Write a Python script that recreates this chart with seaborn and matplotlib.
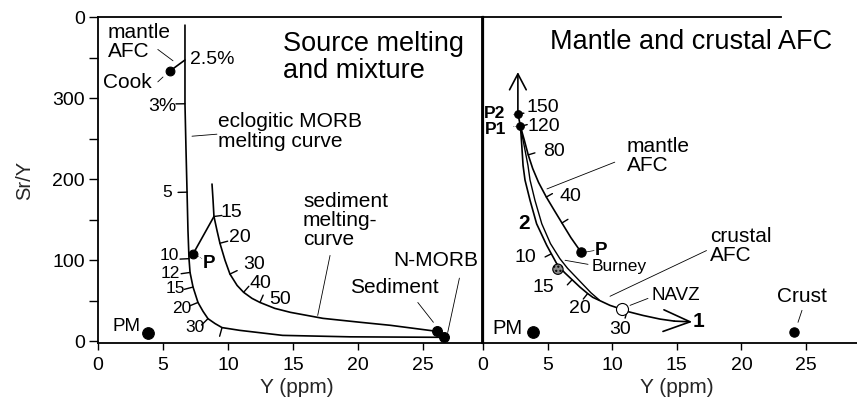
import numpy as np
import matplotlib
matplotlib.use("Agg")
import matplotlib.pyplot as plt
import seaborn as sns

sns.set_theme(style="white")
plt.rcParams["font.family"] = ["Liberation Sans", "DejaVu Sans"]
plt.rcParams["axes.edgecolor"] = "black"
plt.rcParams["xtick.color"] = "black"
plt.rcParams["ytick.color"] = "black"
plt.rcParams["text.color"] = "black"

# ---------------- Source melting and mixture ----------------
# eclogitic MORB melting curve (Y ppm, Sr/Y)
ecl_y = [6.69, 6.69, 6.69, 6.77, 6.85, 6.92, 7.0, 7.08, 7.31, 7.69, 8.08, 8.46,
         9.0, 9.54, 10.9, 14.2, 19.4, 26.6]
ecl_sry = [390, 347, 293, 236, 184, 137, 102, 85, 67, 48, 37, 28,
           22, 17, 13.6, 7.4, 5.6, 5.0]
ecl_tick_y = [6.69, 6.85, 7.0, 7.08, 7.31, 7.69, 8.46, 9.54]
ecl_tick_sry = [293, 184, 102, 85, 67, 48, 28, 17]
ecl_tick_lab = ["3%", "5", "10", "12", "15", "20", "30", ""]

# sediment melting curve
sed_y = [8.77, 8.85, 8.92, 9.15, 9.38, 9.77, 10.15, 10.7, 11.2, 11.85, 12.46,
         13.6, 14.8, 17.3, 20.2, 22.5, 26.1]
sed_sry = [194, 174, 154, 137, 121, 100, 83, 69, 60.5, 53, 48,
           40.7, 35.8, 28.4, 23.5, 19.8, 12.3]
sed_tick_y = [8.92, 9.38, 10.15, 11.2, 12.46]
sed_tick_sry = [154, 121, 83, 60.5, 48]
sed_tick_lab = ["15", "20", "30", "40", "50"]

# mixing line P -> sediment melt, and mantle AFC from 2.5% melt to Cook
mix_y = [7.33, 8.92]
mix_sry = [108.3, 154]
cook_afc_y = [5.5, 6.69]
cook_afc_sry = [333, 347]

left_pt_names = ["PM", "Cook", "P", "Sediment", "N-MORB"]
left_pt_y = [3.85, 5.5, 7.33, 26.1, 26.6]
left_pt_sry = [10, 333, 108.3, 12.3, 5]

# ---------------- Mantle and crustal AFC ----------------
arrow2_y = [2.9, 2.7, 2.7]
arrow2_sry = [265, 281, 332]
arrow2_tick_y = [2.7]
arrow2_tick_sry = [281]
arrow2_tick_lab = ["150"]

mafc_y = [2.9, 3.2, 3.5, 3.85, 4.3, 4.9, 5.5, 6.11, 6.8, 7.59]
mafc_sry = [265, 248, 230, 213, 196, 178, 162, 146, 128, 110]
mafc_tick_y = [2.9, 3.5, 4.9, 6.11]
mafc_tick_sry = [265, 230, 178, 146]
mafc_tick_lab = ["120", "80", "40", ""]

crust_a_y = [2.9, 3.0, 3.1, 3.25, 3.64, 4.15, 4.93, 5.7, 6.3, 6.9, 7.5, 8.1,
             8.5, 9.83, 10.76, 11.15, 12.38, 13.7, 14.8, 16.2]
crust_a_sry = [265, 242, 217, 199, 174, 145, 118.5, 96, 85, 76, 67, 59,
               54.3, 44.4, 39.5, 37, 32, 27.5, 25, 24]
crust_b_y = [2.9, 3.25, 3.48, 3.64, 4.02, 4.55, 5.22, 5.95, 6.55, 7.15, 7.75, 8.35, 9.0]
crust_b_sry = [265, 236, 217, 199, 174, 145, 120.6, 102, 90, 80, 70, 60, 51]
crust_tick_y = [5.29, 6.9, 8.1, 11.15]
crust_tick_sry = [108, 76, 59, 37]
crust_tick_lab = ["10", "15", "20", "30"]

right_pt_names = ["PM", "P2", "P1", "P", "Burney", "NAVZ", "Crust"]
right_pt_y = [3.9, 2.7, 2.9, 7.59, 5.8, 10.76, 24.1]
right_pt_sry = [11, 281, 265, 110, 89, 39.5, 12]

x_ticks = [0, 5, 10, 15, 20, 25]
y_ticks = [0, 100, 200, 300, 400]
y_tick_labels = ["0", "100", "200", "300", "0"]
y_minor = [50, 150, 250, 350]

# where each curve label sits (centre of the text, data units)
ecl_lab_pos = [(4.96, 290), (5.35, 184), (5.46, 106), (5.6, 84), (5.92, 64.8),
               (6.46, 40.1), (7.46, 16.7), None]
sed_lab_pos = [(10.28, 158.6), (10.92, 127.8), (12.0, 95), (12.46, 71.2), (14.0, 51.8)]
arrow2_lab_pos = [(4.64, 288.3)]
mafc_lab_pos = [(4.72, 264.8), (5.5, 233.7), (6.73, 179), None]
crust_lab_pos = [(3.3, 104), (4.65, 67), (7.5, 40.3), (10.6, 14.8)]

# ---------------- figure ----------------
fig = plt.figure(figsize=(8.57, 4.05), dpi=100)
W, H = 857.0, 405.0
axL = fig.add_axes([98 / W, (H - 343) / H, 384 / W, 326 / H])
axR = fig.add_axes([483 / W, (H - 343) / H, 374 / W, 326 / H])

PX = 72.0 / 100.0  # points per pixel


def curve(ax, xs, ys, lw=1.2):
    sns.lineplot(x=xs, y=ys, sort=False, estimator=None, color="black",
                 linewidth=lw, ax=ax)


def dots(ax, xs, ys, s, **kw):
    kw.setdefault("color", "black")
    kw.setdefault("edgecolor", "black")
    sns.scatterplot(x=xs, y=ys, s=s, ax=ax, zorder=5, linewidth=0.8, **kw)


def leader(ax, x0, y0, x1, y1, lw=0.6, ls="-"):
    ax.plot([x0, x1], [y0, y1], color="black", lw=lw, ls=ls)


def curve_ticks(ax, cx, cy, tx, ty, labels, lab_pos, side, length=8, fs=14):
    """Short tick marks normal to a curve, with their labels."""
    pts = ax.transData.transform(np.column_stack([cx, cy]))
    for x, y, lab, pos in zip(tx, ty, labels, lab_pos):
        p = ax.transData.transform((x, y))
        d = np.linalg.norm(pts - p, axis=1)
        i = int(np.argmin(d))
        j0, j1 = max(i - 1, 0), min(i + 1, len(pts) - 1)
        t = pts[j1] - pts[j0]
        t = t / np.linalg.norm(t)
        n = np.array([-t[1], t[0]]) * side
        ax.annotate("", xy=(x, y), xytext=(n[0] * length * PX, n[1] * length * PX),
                    textcoords="offset points",
                    arrowprops=dict(arrowstyle="-", lw=1.0, color="black",
                                    shrinkA=0, shrinkB=0))
        if lab and pos is not None:
            ax.text(pos[0], pos[1], lab, ha="center", va="center", fontsize=fs)


for ax in (axL, axR):
    ax.set_ylim(-2, 400)
    ax.set_xticks(x_ticks)
    ax.set_xticklabels([str(v) for v in x_ticks])
    ax.tick_params(axis="x", direction="out", length=5, width=1, labelsize=14, pad=5,
                   bottom=True)
    ax.set_xlabel("Y (ppm)", fontsize=15)
    ax.xaxis.set_label_coords(0.518, -0.135)
    ax.xaxis.label.set_va("center")

axL.set_xlim(0, 384 / 13.0)
axR.set_xlim(0, 374 / 12.92)

axL.set_yticks(y_ticks)
axL.set_yticklabels(y_tick_labels)
axL.set_yticks(y_minor, minor=True)
axL.tick_params(axis="y", which="both", direction="out", length=6.5, width=1,
                labelsize=14, pad=3, left=True)
axL.set_ylabel("Sr/Y", fontsize=14.5)
axL.yaxis.set_label_coords(-0.19, 0.5)
axL.yaxis.label.set_va("center")

axR.set_yticks([])
for sp in axL.spines.values():
    sp.set_linewidth(1.3)
axR.spines["left"].set_linewidth(1.6)
axR.spines["bottom"].set_linewidth(1.3)
axR.spines["top"].set_linewidth(1.3)
axR.spines["top"].set_bounds(0, 23.1)
axR.spines["right"].set_visible(False)

# ---------- left panel ----------
curve(axL, ecl_y, ecl_sry)
curve(axL, sed_y, sed_sry)
curve(axL, mix_y, mix_sry)
curve(axL, cook_afc_y, cook_afc_sry)
curve_ticks(axL, ecl_y[:4], ecl_sry[:4], ecl_tick_y[:1], ecl_tick_sry[:1],
            ecl_tick_lab[:1], ecl_lab_pos[:1], side=-1, length=9)
curve_ticks(axL, ecl_y, ecl_sry, ecl_tick_y[1:], ecl_tick_sry[1:], ecl_tick_lab[1:],
            ecl_lab_pos[1:], side=-1, length=9, fs=12.5)
curve_ticks(axL, sed_y, sed_sry, sed_tick_y, sed_tick_sry, sed_tick_lab, sed_lab_pos,
            side=1, length=8)
axL.text(8.77, 347.5, "2.5%", fontsize=14, ha="center", va="center")

sizes_L = {"PM": 70, "Cook": 40, "P": 40, "Sediment": 50, "N-MORB": 50}
for nm, x, y in zip(left_pt_names, left_pt_y, left_pt_sry):
    dots(axL, [x], [y], sizes_L[nm])

axL.text(14.2, 383, "Source melting\nand mixture", fontsize=19.5, ha="left", va="top",
         linespacing=1.05)
axL.text(0.77, 393, "mantle\nAFC", fontsize=15, ha="left", va="top", linespacing=1.0)
leader(axL, 4.6, 360, 5.77, 346)
axL.text(0.38, 331, "Cook", fontsize=15, ha="left", va="top")
leader(axL, 4.6, 320, 5.0, 326)
axL.text(9.23, 283, "eclogitic MORB\nmelting curve", fontsize=15, ha="left", va="top",
         linespacing=1.05)
leader(axL, 7.23, 253, 9.15, 255.5)
axL.text(15.77, 184, "sediment\nmelting-\ncurve", fontsize=15, ha="left", va="top",
         linespacing=1.0)
leader(axL, 17.85, 106, 16.9, 32)
axL.text(19.4, 78, "Sediment", fontsize=15, ha="left", va="top")
leader(axL, 24.6, 48, 25.8, 23.5)
axL.text(22.7, 111, "N-MORB", fontsize=15, ha="left", va="top")
leader(axL, 27.8, 78, 26.9, 11)
axL.text(8.08, 106, "P", fontsize=13.5, fontweight="bold", ha="left", va="top")
leader(axL, 7.6, 106, 8.0, 102, lw=0.5, ls=":")
axL.text(1.15, 29, "PM", fontsize=13.5, ha="left", va="top")

# ---------- right panel ----------
curve(axR, arrow2_y[:2], arrow2_sry[:2])
axR.annotate("", xy=(arrow2_y[-1], arrow2_sry[-1]), xytext=(arrow2_y[-2], arrow2_sry[-2]),
             arrowprops=dict(arrowstyle="->,head_length=0.95,head_width=0.5", lw=1.2,
                             color="black", shrinkA=0, shrinkB=0))
curve(axR, mafc_y, mafc_sry)
curve(axR, crust_a_y[:-1], crust_a_sry[:-1])
curve(axR, crust_b_y, crust_b_sry, lw=1.0)
axR.annotate("", xy=(crust_a_y[-1], crust_a_sry[-1]), xytext=(crust_a_y[-2], crust_a_sry[-2]),
             arrowprops=dict(arrowstyle="->,head_length=1.6,head_width=0.65", lw=1.2,
                             color="black", shrinkA=0, shrinkB=0))
curve_ticks(axR, arrow2_y, arrow2_sry, arrow2_tick_y, arrow2_tick_sry, arrow2_tick_lab,
            arrow2_lab_pos, side=-1, length=6, fs=14)
curve_ticks(axR, mafc_y, mafc_sry, mafc_tick_y, mafc_tick_sry, mafc_tick_lab,
            mafc_lab_pos, side=1, length=7, fs=14)
curve_ticks(axR, crust_a_y, crust_a_sry, crust_tick_y, crust_tick_sry, crust_tick_lab,
            crust_lab_pos, side=-1, length=7, fs=14)

sizes_R = {"PM": 70, "P2": 30, "P1": 30, "P": 45, "Crust": 45}
for nm, x, y in zip(right_pt_names, right_pt_y, right_pt_sry):
    if nm == "Burney":
        dots(axR, [x], [y], 55, color="#8a8a8a", hatch="....")
    elif nm == "NAVZ":
        dots(axR, [x], [y], 75, color="white")
    else:
        dots(axR, [x], [y], sizes_R[nm])

axR.text(5.19, 385, "Mantle and crustal AFC", fontsize=19.5, ha="left", va="top")
axR.text(0.05, 290, "P2", fontsize=12.5, fontweight="bold", ha="left", va="top")
axR.text(0.15, 271, "P1", fontsize=12.5, fontweight="bold", ha="left", va="top")
leader(axR, 2.3, 281, 2.6, 281, lw=0.5, ls=":")
leader(axR, 2.35, 265, 2.8, 265, lw=0.5, ls=":")
axR.text(11.15, 252, "mantle\nAFC", fontsize=15, ha="left", va="top", linespacing=1.0)
leader(axR, 10.2, 221, 4.95, 188)
axR.text(2.7, 157, "2", fontsize=15, fontweight="bold", ha="left", va="top")
axR.text(8.67, 123, "P", fontsize=13.5, fontweight="bold", ha="left", va="top")
leader(axR, 7.9, 110, 8.6, 112, lw=0.5)
axR.text(17.57, 141, "crustal\nAFC", fontsize=15, ha="left", va="top", linespacing=1.0)
leader(axR, 17.3, 112, 9.83, 55.6)
axR.text(8.44, 101, "Burney", fontsize=12.5, ha="left", va="top")
leader(axR, 6.35, 100, 8.13, 95)
axR.text(13.08, 67, "NAVZ", fontsize=13.5, ha="left", va="top")
leader(axR, 11.38, 44.4, 12.77, 53)
axR.text(16.25, 36, "1", fontsize=15, fontweight="bold", ha="left", va="top")
axR.text(22.76, 67, "Crust", fontsize=15, ha="left", va="top")
leader(axR, 24.38, 23.5, 24.69, 38.3)
axR.text(0.7, 28, "PM", fontsize=14.5, ha="left", va="top")

fig.savefig("out.png", dpi=100, facecolor="white")
